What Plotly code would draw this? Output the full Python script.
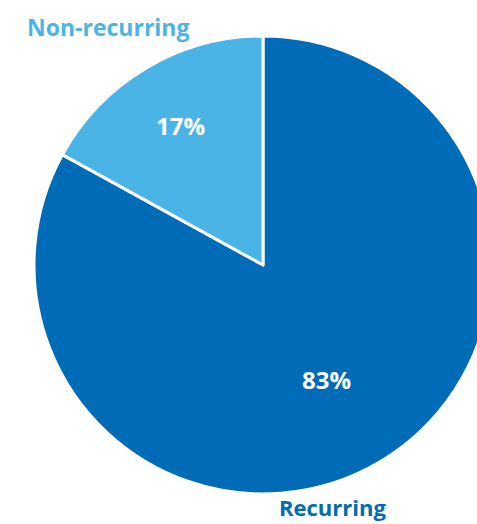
import plotly.graph_objects as go

# Order: Recurring first so that, drawn clockwise from 12 o'clock,
# Non-recurring ends at 12 o'clock on the left side.
labels = ["Recurring", "Non-recurring"]
values = [83, 17]
colors = ["#006BB6", "#4BB4E6"]

W, H = 526, 524

fig = go.Figure(go.Pie(
    labels=labels,
    values=values,
    sort=False,
    direction="clockwise",
    rotation=0,
    marker=dict(colors=colors, line=dict(color="white", width=3)),
    textinfo="none",
    hoverinfo="label+percent",
    showlegend=False,
    domain=dict(x=[0, 1], y=[0.0573, 0.9313]),
))

font_family = "Open Sans, Lato, sans-serif"
annotations = [
    dict(text=labels[1], x=108 / W, y=1 - 27 / H, font=dict(color=colors[1], size=23)),
    dict(text=labels[0], x=332 / W, y=1 - 507 / H, font=dict(color=colors[0], size=22)),
    dict(text=f"{values[1]}%", x=180 / W, y=1 - 125 / H, font=dict(color="white", size=24)),
    dict(text=f"{values[0]}%", x=326 / W, y=1 - 379 / H, font=dict(color="white", size=24)),
]
for a in annotations:
    a.update(xref="paper", yref="paper", showarrow=False, xanchor="center", yanchor="middle")
    a["font"]["family"] = font_family
    a["font"]["weight"] = "bold"

fig.update_layout(
    width=W, height=H,
    margin=dict(l=0, r=0, t=0, b=0),
    paper_bgcolor="white",
    plot_bgcolor="white",
    annotations=annotations,
)

fig.write_html(
    "out.html",
    config={"displayModeBar": False},
    post_script="document.body.style.margin='0';document.body.style.overflow='hidden';",
)
